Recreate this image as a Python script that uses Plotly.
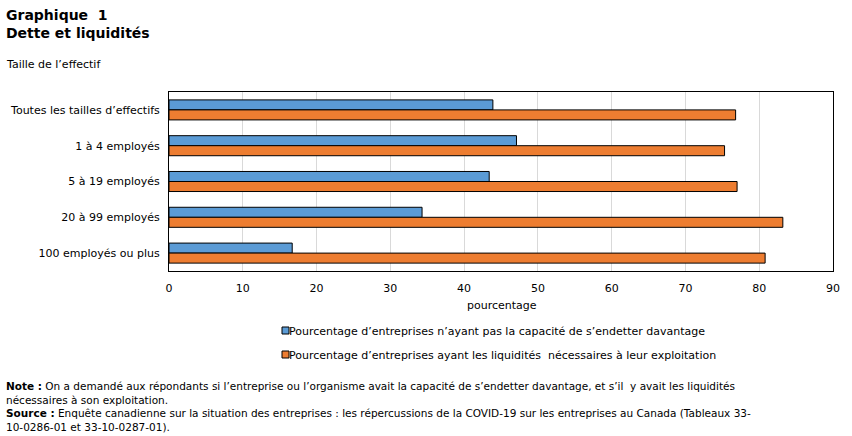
import plotly.graph_objects as go

categories = ["Toutes les tailles d\u2019effectifs", "1 \u00e0 4 employ\u00e9s", "5 \u00e0 19 employ\u00e9s",
              "20 \u00e0 99 employ\u00e9s", "100 employ\u00e9s ou plus"]
series_names = ["Pourcentage d\u2019entreprises n\u2019ayant pas la capacit\u00e9 de s\u2019endetter davantage",
                "Pourcentage d\u2019entreprises ayant les liquidit\u00e9s  n\u00e9cessaires \u00e0 leur exploitation"]
series_colors = ["#5B9BD5", "#ED7D31"]
debt_values = [43.9, 47.1, 43.4, 34.3, 16.7]
liquidity_values = [76.8, 75.3, 77.0, 83.2, 80.8]
x_ticks = [0, 10, 20, 30, 40, 50, 60, 70, 80, 90]

FONT = "DejaVu Sans"
W, H = 852, 436
L, R, T, B = 169, 19, 92, 165
pw, ph = W - L - R, H - T - B

fig = go.Figure()
for vals, name, col in zip([debt_values, liquidity_values], series_names, series_colors):
    fig.add_trace(go.Bar(y=categories, x=vals, orientation="h", name=name,
                         marker=dict(color=col, line=dict(color="black", width=1))))

def px(xp):
    return (xp - L) / pw

def py(yp):
    return (H - B - yp) / ph

annotations = [
    dict(text="<b>Graphique  1</b>", x=px(4), y=py(5), xanchor="left", yanchor="top",
         font=dict(size=14, color="black")),
    dict(text="<b>Dette et liquidit\u00e9s</b>", x=px(4), y=py(23), xanchor="left", yanchor="top",
         font=dict(size=14, color="black")),
    dict(text="Taille de l\u2019effectif", x=px(4), y=py(56), xanchor="left", yanchor="top",
         font=dict(size=11, color="black")),
    dict(text="pourcentage", x=px(502), y=py(297), xanchor="center", yanchor="top",
         font=dict(size=11, color="black")),
    dict(text="<b>Note :</b> On a demand\u00e9 aux r\u00e9pondants si l\u2019entreprise ou l\u2019organisme avait la capacit\u00e9 de s\u2019endetter davantage, et s\u2019il  y avait les liquidit\u00e9s<br>"
              "n\u00e9cessaires \u00e0 son exploitation.<br>"
              "<b>Source :</b> Enqu\u00eate canadienne sur la situation des entreprises : les r\u00e9percussions de la COVID-19 sur les entreprises au Canada (Tableaux 33-<br>"
              "10-0286-01 et 33-10-0287-01).",
         x=px(4), y=py(378), xanchor="left", yanchor="top", align="left",
         font=dict(size=10.5, color="black")),
]

# custom legend (small squares + text)
shapes = []
legend_rows = [331, 355]
for name, col, yc in zip(series_names, series_colors, legend_rows):
    shapes.append(dict(type="rect", xref="paper", yref="paper",
                       x0=px(282), x1=px(289), y0=py(yc - 4), y1=py(yc + 3),
                       fillcolor=col, line=dict(color="black", width=1)))
    annotations.append(dict(text=name, x=px(287), y=py(yc), xanchor="left", yanchor="middle",
                            font=dict(size=11, color="black")))

for a in annotations:
    a.update(xref="paper", yref="paper", showarrow=False)

fig.update_layout(
    width=W, height=H,
    margin=dict(l=L, r=R, t=T, b=B),
    paper_bgcolor="white", plot_bgcolor="white",
    font=dict(family=FONT, size=11, color="black"),
    barmode="group", bargap=0.44, bargroupgap=0,
    showlegend=False,
    annotations=annotations,
    shapes=shapes,
    xaxis=dict(range=[0, 90], tickvals=x_ticks, showgrid=True, gridcolor="#d9d9d9", gridwidth=1,
               showline=True, linecolor="black", linewidth=1, mirror=True, ticks="outside",
               ticklen=7, tickcolor="white", zeroline=False, tickfont=dict(size=11),
               automargin=False),
    yaxis=dict(autorange="reversed", showline=True, linecolor="black", linewidth=1, mirror=True,
               ticks="outside", ticklen=6, tickcolor="white", tickfont=dict(size=11),
               automargin=False),
)

fig.write_html("out.html")
